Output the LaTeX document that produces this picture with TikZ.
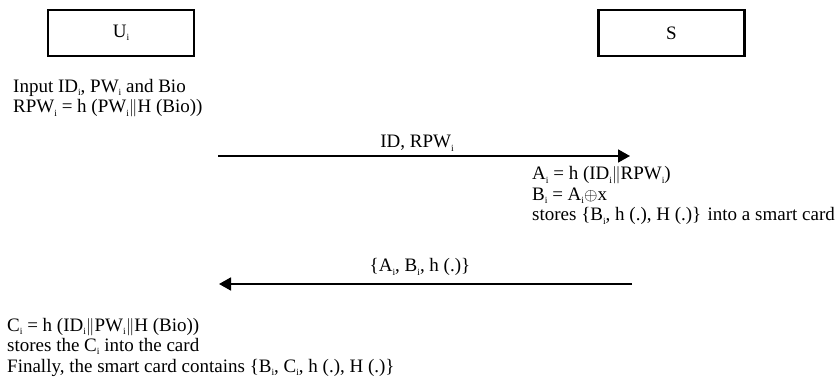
\documentclass[tikz,border=0pt]{standalone}
\usepackage{fontspec}
\setmainfont{Liberation Serif}
\usepackage{tikz}
\usetikzlibrary{arrows.meta,positioning}
\newcommand{\sbi}{\raisebox{-0.35ex}{\fontsize{9.5}{9.5}\selectfont i}}
\newcommand{\cat}{\ensuremath{\Vert}}

\begin{document}
\begin{tikzpicture}[x=1pt,y=-1pt,
    every node/.style={font=\fontsize{19}{20.5}\selectfont},
    party/.style={draw, line width=2.2pt, minimum width=146pt, minimum height=46pt, inner sep=0pt},
    msg/.style={line width=1.8pt, -{Triangle[length=12pt,width=13pt]}},
    step text/.style={align=left, anchor=base west, inner sep=0pt}]
    \useasboundingbox (0,0) rectangle (839,385);

    % Participants
    \node[party] (user) at (121,33) {U\sbi};
    \node[party] (server) at (671.5,33) {S};

    % User side, registration request (anchored at last line)
    \node[step text] (userin) at (13,113)
      {Input ID\sbi, PW\sbi{} and Bio\\
       RPW\sbi{} = h (PW\sbi\cat H (Bio))};

    % Message 1: user to server
    \coordinate (reqL) at (218,156);
    \coordinate (reqR) at (630,156);
    \draw[msg] (reqL) -- (reqR);
    \node[anchor=base] (reqlbl) at (417,148) {ID, RPW\sbi};

    % Server side computations
    \node[step text] (servcalc) at (532,221)
      {A\sbi{} = h (ID\sbi\cat RPW\sbi)\\
       B\sbi{} = A\sbi$\oplus$x\\
       stores \{B\sbi, h (.), H (.)\} into a smart card};

    % Message 2: server to user
    \coordinate (repR) at (632,284);
    \coordinate (repL) at (219,284);
    \draw[msg] (repR) -- (repL);
    \node[anchor=base] (replbl) at (420,272) {\{A\sbi, B\sbi, h (.)\}};

    % User side, card update
    \node[step text] (usercard) at (7,372)
      {C\sbi{} = h (ID\sbi\cat PW\sbi\cat H (Bio))\\
       stores the C\sbi{} into the card\\
       Finally, the smart card contains \{B\sbi, C\sbi, h (.), H (.)\}};
  \end{tikzpicture}
\end{document}
